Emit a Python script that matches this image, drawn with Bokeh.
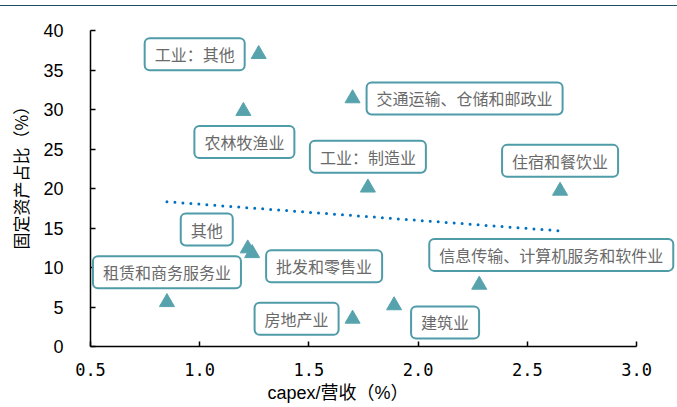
import numpy as np
from bokeh.plotting import figure
from bokeh.models import Range1d, FixedTicker, Label, Div, ColumnDataSource, Title
from bokeh.layouts import column
from bokeh.embed import file_html
from bokeh.resources import INLINE

# Industry data: capex / revenue (%) vs. fixed-asset share (%)
industries = [
    "工业：其他", "农林牧渔业", "交通运输、仓储和邮政业", "工业：制造业",
    "住宿和餐饮业", "其他", "批发和零售业", "租赁和商务服务业",
    "房地产业", "建筑业", "信息传输、计算机服务和软件业",
]
capex_to_revenue = [1.27, 1.20, 1.70, 1.77, 2.65, 1.22, 1.24, 0.85, 1.70, 1.89, 2.28]
fixed_asset_share = [37.0, 29.8, 31.4, 20.1, 19.7, 12.4, 11.8, 5.6, 3.5, 5.2, 7.8]

x_ticks = [0.5, 1.0, 1.5, 2.0, 2.5, 3.0]
x_tick_labels = ["0.5", "1.0", "1.5", "2.0", "2.5", "3.0"]
y_ticks = [0, 5, 10, 15, 20, 25, 30, 35, 40]

x_title = "capex/营收（%）"
y_title = "固定资产占比（%）"

# Callout placement relative to each marker, in screen pixels (right, up)
label_offsets = [
    (-64, 0), (1, -31), (112, 0), (0, 31), (0, 30), (-41, 19),
    (72, -13), (0, 30), (-56, 0), (51, -17), (72, 30),
]

TEAL = "#57a3ad"
BOX = "#4f9ba7"
TEXT_GREY = "#6a6a6a"
CJK = "Noto Sans CJK SC"

# The plotting frame runs a little past 3.0 so the right-hand callout fits;
# the x axis line itself is bounded to 0.5..3.0.
X_END = 3.0 + 41 / 218.5

p = figure(
    width=677, height=401,
    x_range=Range1d(0.5, X_END), y_range=Range1d(0, 40),
    output_backend="svg", toolbar_location=None,
    min_border_left=90, min_border_right=0,
    min_border_top=24, min_border_bottom=61,
)
p.outline_line_color = None
p.xgrid.visible = False
p.ygrid.visible = False
p.background_fill_color = "white"
p.border_fill_color = "white"

# Linear trend line fitted to the scatter
coef = np.polyfit(capex_to_revenue, fixed_asset_share, 1)
trend_x = [min(capex_to_revenue), max(capex_to_revenue)]
trend_y = list(np.polyval(coef, trend_x))
p.line(trend_x, trend_y, line_color="#0070c0", line_width=3,
       line_dash="0 8", line_cap="round")

src = ColumnDataSource(dict(x=capex_to_revenue, y=fixed_asset_share, name=industries))
p.scatter("x", "y", source=src, marker="triangle", size=15,
          fill_color=TEAL, line_color=TEAL)

for name, xv, yv, (dx, dy) in zip(industries, capex_to_revenue, fixed_asset_share, label_offsets):
    p.add_layout(Label(
        x=xv, y=yv, x_offset=dx, y_offset=dy, text=name,
        text_align="center", text_baseline="middle",
        text_font=CJK, text_font_size="16px", text_color=TEXT_GREY,
        background_fill_color="white",
        border_line_color=BOX, border_line_width=2,
        border_radius=5,
        padding=dict(left=10, right=10, top=4, bottom=4),
    ))

# Axes
for ax in (p.xaxis[0], p.yaxis[0]):
    ax.axis_line_width = 1.5
    ax.axis_line_color = "black"
    ax.major_tick_line_color = "black"
    ax.major_tick_line_width = 1.5
    ax.major_tick_in = 5
    ax.major_tick_out = 0
    ax.minor_tick_line_color = None
    ax.major_label_text_color = "black"

xa = p.xaxis[0]
xa.bounds = (0.5, 3.0)
xa.ticker = FixedTicker(ticks=x_ticks)
xa.major_label_overrides = {t: s for t, s in zip(x_ticks, x_tick_labels)}
xa.major_label_text_font = "DejaVu Sans Mono"
xa.major_label_text_font_size = "17px"
xa.major_label_standoff = 16

ya = p.yaxis[0]
ya.ticker = FixedTicker(ticks=y_ticks)
ya.major_label_text_font = "Liberation Sans"
ya.major_label_text_font_size = "18px"
ya.major_label_standoff = 27

# Axis titles, set off-centre along their axes
p.add_layout(Title(
    text=x_title, align="left", offset=177, vertical_align="bottom", standoff=4,
    text_font="Liberation Sans, Noto Sans CJK SC", text_font_size="18px",
    text_font_style="normal", text_color="black",
), "below")
p.add_layout(Title(
    text=y_title, align="left", offset=97, vertical_align="top", standoff=12,
    text_font=CJK, text_font_size="17px",
    text_font_style="normal", text_color="black",
), "left")

# Thin rule across the top of the page
rule = Div(width=677, height=6, margin=0,
           styles={"border-bottom": "1.5px solid #1c4d63", "box-sizing": "border-box"})

layout = column(rule, p, spacing=0)

with open("out.html", "w") as f:
    f.write(file_html(layout, INLINE))
